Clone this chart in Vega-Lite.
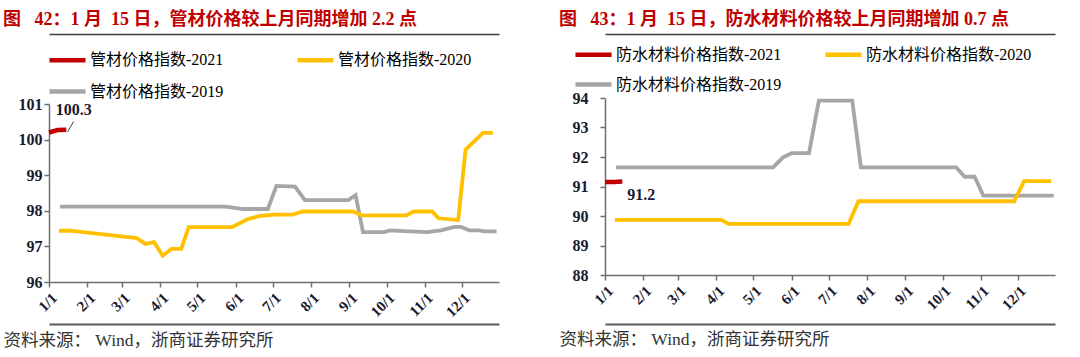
{
  "$schema": "https://vega.github.io/schema/vega-lite/v6.json",
  "background": "white",
  "padding": {"left": 3, "top": 10, "right": 0, "bottom": 0},
  "spacing": 54,
  "resolve": {"scale": {"color": "independent"}, "legend": {"color": "independent"}},
  "config": {
    "view": {"stroke": null},
    "font": "Liberation Serif, Noto Sans CJK SC",
    "axis": {"grid": false, "title": null},
    "legend": {"padding": 0}
  },
  "hconcat": [
    {
      "width": 450,
      "height": 184,
      "title": {"text": "图\u00a0\u00a0\u00a042：1\u00a0月\u00a0\u00a015\u00a0日，管材价格较上月同期增加\u00a02.2\u00a0点", "anchor": "start", "frame": "group", "dx": -46, "offset": 5.5, "fontSize": 18, "fontWeight": "bold", "color": "#C00000", "font": "Liberation Serif, Noto Sans CJK SC"},
      "resolve": {"axis": {"x": "independent"}},
      "layer": [
        {
          "data": {"values": [
            {"date": "01-10", "value": 98.12, "series": "管材价格指数-2019"},
            {"date": "05-24", "value": 98.12, "series": "管材价格指数-2019"},
            {"date": "06-07", "value": 98.05, "series": "管材价格指数-2019"},
            {"date": "06-27", "value": 98.05, "series": "管材价格指数-2019"},
            {"date": "07-04", "value": 98.7, "series": "管材价格指数-2019"},
            {"date": "07-19", "value": 98.68, "series": "管材价格指数-2019"},
            {"date": "07-27", "value": 98.3, "series": "管材价格指数-2019"},
            {"date": "08-31", "value": 98.3, "series": "管材价格指数-2019"},
            {"date": "09-06", "value": 98.44, "series": "管材价格指数-2019"},
            {"date": "09-12", "value": 97.4, "series": "管材价格指数-2019"},
            {"date": "09-29", "value": 97.4, "series": "管材价格指数-2019"},
            {"date": "10-04", "value": 97.45, "series": "管材价格指数-2019"},
            {"date": "10-15", "value": 97.43, "series": "管材价格指数-2019"},
            {"date": "11-03", "value": 97.4, "series": "管材价格指数-2019"},
            {"date": "11-14", "value": 97.45, "series": "管材价格指数-2019"},
            {"date": "11-25", "value": 97.55, "series": "管材价格指数-2019"},
            {"date": "11-30", "value": 97.55, "series": "管材价格指数-2019"},
            {"date": "12-07", "value": 97.45, "series": "管材价格指数-2019"},
            {"date": "12-15", "value": 97.45, "series": "管材价格指数-2019"},
            {"date": "12-19", "value": 97.42, "series": "管材价格指数-2019"},
            {"date": "12-29", "value": 97.42, "series": "管材价格指数-2019"},
            {"date": "01-09", "value": 97.44, "series": "管材价格指数-2020"},
            {"date": "01-18", "value": 97.44, "series": "管材价格指数-2020"},
            {"date": "03-13", "value": 97.23, "series": "管材价格指数-2020"},
            {"date": "03-20", "value": 97.07, "series": "管材价格指数-2020"},
            {"date": "03-27", "value": 97.12, "series": "管材价格指数-2020"},
            {"date": "04-03", "value": 96.74, "series": "管材价格指数-2020"},
            {"date": "04-10", "value": 96.93, "series": "管材价格指数-2020"},
            {"date": "04-18", "value": 96.93, "series": "管材价格指数-2020"},
            {"date": "04-24", "value": 97.54, "series": "管材价格指数-2020"},
            {"date": "05-29", "value": 97.54, "series": "管材价格指数-2020"},
            {"date": "06-11", "value": 97.77, "series": "管材价格指数-2020"},
            {"date": "06-21", "value": 97.86, "series": "管材价格指数-2020"},
            {"date": "07-03", "value": 97.89, "series": "管材价格指数-2020"},
            {"date": "07-17", "value": 97.89, "series": "管材价格指数-2020"},
            {"date": "07-25", "value": 97.98, "series": "管材价格指数-2020"},
            {"date": "09-04", "value": 97.98, "series": "管材价格指数-2020"},
            {"date": "09-11", "value": 97.87, "series": "管材价格指数-2020"},
            {"date": "10-17", "value": 97.87, "series": "管材价格指数-2020"},
            {"date": "10-23", "value": 97.98, "series": "管材价格指数-2020"},
            {"date": "11-07", "value": 97.98, "series": "管材价格指数-2020"},
            {"date": "11-12", "value": 97.79, "series": "管材价格指数-2020"},
            {"date": "11-28", "value": 97.74, "series": "管材价格指数-2020"},
            {"date": "12-04", "value": 99.72, "series": "管材价格指数-2020"},
            {"date": "12-18", "value": 100.19, "series": "管材价格指数-2020"},
            {"date": "12-26", "value": 100.19, "series": "管材价格指数-2020"}
          ], "format": {"parse": {"date": "date:'%m-%d'"}}},
          "mark": {"type": "line", "strokeWidth": 3.8},
          "encoding": {
            "x": {"field": "date", "type": "temporal",
              "scale": {"domain": [{"year": 1900, "month": 1, "date": 1}, {"year": 1900, "month": 12, "date": 31}]},
              "axis": {"format": "%-m/%-d", "tickCount": {"interval": "month", "step": 1}, "labelAngle": -45, "labelAlign": "right", "labelBaseline": "top", "labelFont": "Liberation Serif", "labelFontWeight": "bold", "labelFontSize": 15, "labelColor": "#1a1a2e", "labelPadding": 3, "labelOverlap": false, "labelFlush": false, "tickSize": 5, "tickColor": "#6e6e6e", "domainColor": "#6e6e6e", "domainWidth": 1.5, "tickWidth": 1.5,
                "title": "资料来源： Wind，浙商证券研究所", "titleAnchor": "start", "titleAlign": "left", "titleBaseline": "middle", "titleX": -46, "titleY": 58, "titleFontSize": 17.5, "titleFontWeight": "normal", "titleColor": "#333333", "titleFont": "Liberation Serif, Noto Sans CJK SC"}},
            "y": {"field": "value", "type": "quantitative",
              "scale": {"domain": [96, 101], "nice": false, "zero": false, "range": [184, 6]},
              "axis": {"values": [96, 97, 98, 99, 100, 101], "labelFont": "Liberation Serif", "labelFontWeight": "bold", "labelFontSize": 16, "labelColor": "#1a1a2e", "labelPadding": 2, "tickSize": 5, "tickColor": "#6e6e6e", "domainColor": "#6e6e6e", "domainWidth": 1.5, "tickWidth": 1.5}},
            "color": {"field": "series", "type": "nominal",
              "scale": {"domain": ["管材价格指数-2021", "管材价格指数-2020", "管材价格指数-2019"], "range": ["#C00000", "#FFC000", "#A6A6A6"]},
              "legend": {"orient": "none", "direction": "horizontal", "legendX": -2, "legendY": -58.5, "columns": 2, "columnPadding": 64, "rowPadding": 1.5, "symbolType": "stroke", "symbolSize": 1300, "symbolStrokeWidth": 4.5, "labelFontSize": 16, "labelFont": "Liberation Serif, Noto Sans CJK SC", "labelColor": "#000000", "labelOffset": 2, "labelLimit": 300, "title": null}}
          }
        },
        {
          "data": {"values": [
            {"date": "01-01", "value": 100.2, "series": "管材价格指数-2021"},
            {"date": "01-08", "value": 100.27, "series": "管材价格指数-2021"},
            {"date": "01-15", "value": 100.28, "series": "管材价格指数-2021"}
          ], "format": {"parse": {"date": "date:'%m-%d'"}}},
          "mark": {"type": "line", "strokeWidth": 4.5},
          "encoding": {
            "x": {"field": "date", "type": "temporal", "axis": {"orient": "top", "offset": 64, "labels": false, "ticks": false, "domain": true, "domainColor": "#404040", "domainWidth": 1.5, "domainOpacity": 1, "title": null,
              "encode": {"domain": {"enter": {"opacity": {"value": 1}}, "update": {"opacity": {"value": 1}}}}}},
            "y": {"field": "value", "type": "quantitative",
              "axis": {"values": [96, 97, 98, 99, 100, 101], "labelFont": "Liberation Serif", "labelFontWeight": "bold", "labelFontSize": 16, "labelColor": "#1a1a2e", "labelPadding": 2, "tickSize": 5, "tickColor": "#6e6e6e", "domainColor": "#6e6e6e", "domainWidth": 1.5, "tickWidth": 1.5}},
            "color": {"field": "series", "type": "nominal",
              "scale": {"domain": ["管材价格指数-2021", "管材价格指数-2020", "管材价格指数-2019"], "range": ["#C00000", "#FFC000", "#A6A6A6"]},
              "legend": {"orient": "none", "direction": "horizontal", "legendX": -2, "legendY": -58.5, "columns": 2, "columnPadding": 64, "rowPadding": 1.5, "symbolType": "stroke", "symbolSize": 1300, "symbolStrokeWidth": 4.5, "labelFontSize": 16, "labelFont": "Liberation Serif, Noto Sans CJK SC", "labelColor": "#000000", "labelOffset": 2, "labelLimit": 300, "title": null}}
          }
        },
        {
          "data": {"values": [
            {"date": "01-16", "value": 100.22},
            {"date": "01-21", "value": 100.51}
          ], "format": {"parse": {"date": "date:'%m-%d'"}}},
          "mark": {"type": "line", "strokeWidth": 1, "color": "#404040"},
          "encoding": {
            "x": {"field": "date", "type": "temporal", "axis": {"orient": "bottom", "offset": 42, "labels": false, "ticks": false, "domain": true, "domainColor": "#595959", "domainWidth": 2, "domainOpacity": 1, "title": null,
              "encode": {"domain": {"enter": {"opacity": {"value": 1}}, "update": {"opacity": {"value": 1}}}}}},
            "y": {"field": "value", "type": "quantitative",
              "axis": {"values": [96, 97, 98, 99, 100, 101], "labelFont": "Liberation Serif", "labelFontWeight": "bold", "labelFontSize": 16, "labelColor": "#1a1a2e", "labelPadding": 2, "tickSize": 5, "tickColor": "#6e6e6e", "domainColor": "#6e6e6e", "domainWidth": 1.5, "tickWidth": 1.5}}
          }
        },
        {
          "data": {"values": [
            {"date": "01-21", "value": 100.51, "label": "100.3"}
          ], "format": {"parse": {"date": "date:'%m-%d'"}}},
          "mark": {"type": "text", "dy": -11, "align": "center", "baseline": "middle", "font": "Liberation Serif", "fontWeight": "bold", "fontSize": 16, "color": "#1a1a2e"},
          "encoding": {
            "x": {"field": "date", "type": "temporal", "axis": {"orient": "bottom", "labels": false, "ticks": false, "domain": false, "title": null}},
            "y": {"field": "value", "type": "quantitative",
              "axis": {"values": [96, 97, 98, 99, 100, 101], "labelFont": "Liberation Serif", "labelFontWeight": "bold", "labelFontSize": 16, "labelColor": "#1a1a2e", "labelPadding": 2, "tickSize": 5, "tickColor": "#6e6e6e", "domainColor": "#6e6e6e", "domainWidth": 1.5, "tickWidth": 1.5}},
            "text": {"field": "label"}
          }
        }
      ]
    },
    {
      "width": 450,
      "height": 177,
      "title": {"text": "图\u00a0\u00a0\u00a043：1\u00a0月\u00a0\u00a015\u00a0日，防水材料价格较上月同期增加\u00a00.7\u00a0点", "anchor": "start", "frame": "group", "dx": -46, "offset": 5.5, "fontSize": 18, "fontWeight": "bold", "color": "#C00000", "font": "Liberation Serif, Noto Sans CJK SC"},
      "resolve": {"axis": {"x": "independent"}},
      "layer": [
        {
          "data": {"values": [
            {"date": "01-10", "value": 91.65, "series": "防水材料价格指数-2019"},
            {"date": "05-17", "value": 91.65, "series": "防水材料价格指数-2019"},
            {"date": "05-25", "value": 91.99, "series": "防水材料价格指数-2019"},
            {"date": "06-01", "value": 92.13, "series": "防水材料价格指数-2019"},
            {"date": "06-15", "value": 92.13, "series": "防水材料价格指数-2019"},
            {"date": "06-23", "value": 93.91, "series": "防水材料价格指数-2019"},
            {"date": "07-20", "value": 93.91, "series": "防水材料价格指数-2019"},
            {"date": "07-27", "value": 91.65, "series": "防水材料价格指数-2019"},
            {"date": "10-12", "value": 91.65, "series": "防水材料价格指数-2019"},
            {"date": "10-19", "value": 91.33, "series": "防水材料价格指数-2019"},
            {"date": "10-27", "value": 91.33, "series": "防水材料价格指数-2019"},
            {"date": "11-03", "value": 90.69, "series": "防水材料价格指数-2019"},
            {"date": "12-30", "value": 90.69, "series": "防水材料价格指数-2019"},
            {"date": "01-09", "value": 89.87, "series": "防水材料价格指数-2020"},
            {"date": "04-05", "value": 89.87, "series": "防水材料价格指数-2020"},
            {"date": "04-11", "value": 89.73, "series": "防水材料价格指数-2020"},
            {"date": "07-17", "value": 89.73, "series": "防水材料价格指数-2020"},
            {"date": "07-25", "value": 90.5, "series": "防水材料价格指数-2020"},
            {"date": "11-28", "value": 90.5, "series": "防水材料价格指数-2020"},
            {"date": "12-06", "value": 91.18, "series": "防水材料价格指数-2020"},
            {"date": "12-28", "value": 91.18, "series": "防水材料价格指数-2020"}
          ], "format": {"parse": {"date": "date:'%m-%d'"}}},
          "mark": {"type": "line", "strokeWidth": 3.8},
          "encoding": {
            "x": {"field": "date", "type": "temporal",
              "scale": {"domain": [{"year": 1900, "month": 1, "date": 1}, {"year": 1900, "month": 12, "date": 31}]},
              "axis": {"format": "%-m/%-d", "tickCount": {"interval": "month", "step": 1}, "labelAngle": -45, "labelAlign": "right", "labelBaseline": "top", "labelFont": "Liberation Serif", "labelFontWeight": "bold", "labelFontSize": 15, "labelColor": "#1a1a2e", "labelPadding": 3, "labelOverlap": false, "labelFlush": false, "tickSize": 5, "tickColor": "#6e6e6e", "domainColor": "#6e6e6e", "domainWidth": 1.5, "tickWidth": 1.5,
                "title": "资料来源： Wind，浙商证券研究所", "titleAnchor": "start", "titleAlign": "left", "titleBaseline": "middle", "titleX": -46, "titleY": 64, "titleFontSize": 17.5, "titleFontWeight": "normal", "titleColor": "#333333", "titleFont": "Liberation Serif, Noto Sans CJK SC"}},
            "y": {"field": "value", "type": "quantitative",
              "scale": {"domain": [88, 94], "nice": false, "zero": false},
              "axis": {"values": [88, 89, 90, 91, 92, 93, 94], "labelFont": "Liberation Serif", "labelFontWeight": "bold", "labelFontSize": 16, "labelColor": "#1a1a2e", "labelPadding": 12, "tickSize": 5, "tickColor": "#6e6e6e", "domainColor": "#6e6e6e", "domainWidth": 1.5, "tickWidth": 1.5}},
            "color": {"field": "series", "type": "nominal",
              "scale": {"domain": ["防水材料价格指数-2021", "防水材料价格指数-2020", "防水材料价格指数-2019"], "range": ["#C00000", "#FFC000", "#A6A6A6"]},
              "legend": {"orient": "none", "direction": "horizontal", "legendX": -32, "legendY": -64, "columns": 2, "columnPadding": 34, "rowPadding": -15, "symbolType": "stroke", "symbolSize": 1300, "symbolStrokeWidth": 4.5, "labelFontSize": 16, "labelFont": "Liberation Serif, Noto Sans CJK SC", "labelColor": "#000000", "labelOffset": 2, "labelLimit": 300, "title": null}}
          }
        },
        {
          "data": {"values": [
            {"date": "01-01", "value": 91.15, "series": "防水材料价格指数-2021"},
            {"date": "01-08", "value": 91.15, "series": "防水材料价格指数-2021"},
            {"date": "01-15", "value": 91.17, "series": "防水材料价格指数-2021"}
          ], "format": {"parse": {"date": "date:'%m-%d'"}}},
          "mark": {"type": "line", "strokeWidth": 4.5},
          "encoding": {
            "x": {"field": "date", "type": "temporal", "axis": {"orient": "top", "offset": 64, "labels": false, "ticks": false, "domain": true, "domainColor": "#404040", "domainWidth": 1.5, "domainOpacity": 1, "title": null,
              "encode": {"domain": {"enter": {"opacity": {"value": 1}}, "update": {"opacity": {"value": 1}}}}}},
            "y": {"field": "value", "type": "quantitative",
              "axis": {"values": [88, 89, 90, 91, 92, 93, 94], "labelFont": "Liberation Serif", "labelFontWeight": "bold", "labelFontSize": 16, "labelColor": "#1a1a2e", "labelPadding": 12, "tickSize": 5, "tickColor": "#6e6e6e", "domainColor": "#6e6e6e", "domainWidth": 1.5, "tickWidth": 1.5}},
            "color": {"field": "series", "type": "nominal",
              "scale": {"domain": ["防水材料价格指数-2021", "防水材料价格指数-2020", "防水材料价格指数-2019"], "range": ["#C00000", "#FFC000", "#A6A6A6"]},
              "legend": {"orient": "none", "direction": "horizontal", "legendX": -32, "legendY": -64, "columns": 2, "columnPadding": 34, "rowPadding": -15, "symbolType": "stroke", "symbolSize": 1300, "symbolStrokeWidth": 4.5, "labelFontSize": 16, "labelFont": "Liberation Serif, Noto Sans CJK SC", "labelColor": "#000000", "labelOffset": 2, "labelLimit": 300, "title": null}}
          }
        },
        {
          "data": {"values": [
            {"date": "01-15", "value": 91.17, "label": "91.2"}
          ], "format": {"parse": {"date": "date:'%m-%d'"}}},
          "mark": {"type": "text", "dx": 19, "dy": 14, "align": "center", "baseline": "middle", "font": "Liberation Serif", "fontWeight": "bold", "fontSize": 16, "color": "#1a1a2e"},
          "encoding": {
            "x": {"field": "date", "type": "temporal", "axis": {"orient": "bottom", "offset": 49, "labels": false, "ticks": false, "domain": true, "domainColor": "#595959", "domainWidth": 2, "domainOpacity": 1, "title": null,
              "encode": {"domain": {"enter": {"opacity": {"value": 1}}, "update": {"opacity": {"value": 1}}}}}},
            "y": {"field": "value", "type": "quantitative",
              "axis": {"values": [88, 89, 90, 91, 92, 93, 94], "labelFont": "Liberation Serif", "labelFontWeight": "bold", "labelFontSize": 16, "labelColor": "#1a1a2e", "labelPadding": 12, "tickSize": 5, "tickColor": "#6e6e6e", "domainColor": "#6e6e6e", "domainWidth": 1.5, "tickWidth": 1.5}},
            "text": {"field": "label"}
          }
        }
      ]
    }
  ]
}
